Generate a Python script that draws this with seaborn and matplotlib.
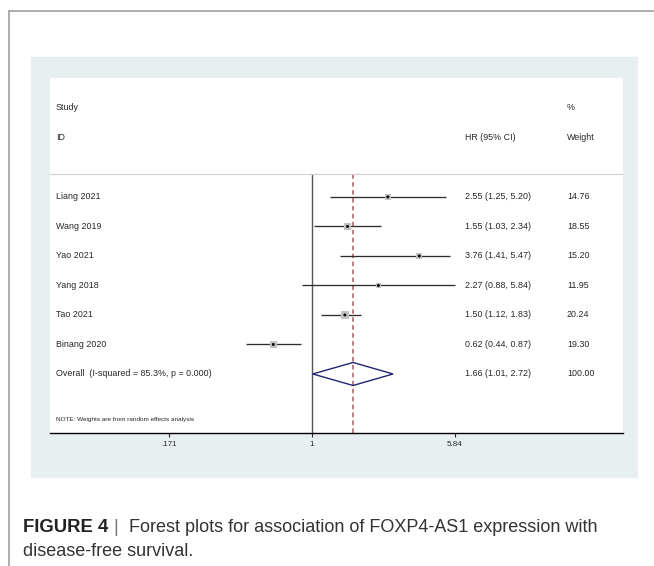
import matplotlib
matplotlib.use("Agg")
import matplotlib.pyplot as plt
from matplotlib.patches import Rectangle, Polygon
from matplotlib.lines import Line2D
from matplotlib.transforms import blended_transform_factory
import numpy as np
import pandas as pd
import seaborn as sns

# Datos del forest plot
studies = ["Liang 2021", "Wang 2019", "Yao 2021", "Yang 2018", "Tao 2021", "Binang 2020"]
hr = [2.55, 1.55, 3.76, 2.27, 1.50, 0.62]
ci_low = [1.25, 1.03, 1.41, 0.88, 1.12, 0.44]
ci_high = [5.20, 2.34, 5.47, 5.84, 1.83, 0.87]
weights = [14.76, 18.55, 15.20, 11.95, 20.24, 19.30]
overall_hr = 1.66
overall_low = 1.01
overall_high = 2.72
overall_weight = 100.00
overall_label = "Overall  (I-squared = 85.3%, p = 0.000)"
x_ticks = [0.171, 1, 5.84]
x_ticklabels = [".171", "1", "5.84"]

df = pd.DataFrame({"study": studies, "hr": hr, "low": ci_low,
                   "high": ci_high, "weight": weights})
df["row"] = np.arange(len(df))
overall_row = len(df)

sns.set_style("white")
plt.rcParams["font.family"] = ["Liberation Sans", "DejaVu Sans"]

W, H = 654, 566
fig = plt.figure(figsize=(W / 100, H / 100), dpi=100)

def fx(px):
    return px / W

def fy(py):
    return 1 - py / H

# marco de la página y panel de fondo
fig.add_artist(Line2D([fx(9), 1], [fy(11), fy(11)], color="#a0a0a0", lw=1.2))
fig.add_artist(Line2D([fx(9), fx(9)], [fy(11), 0], color="#a0a0a0", lw=1.2))
fig.add_artist(Rectangle((fx(31), fy(477)), fx(637) - fx(31), fy(57) - fy(477),
                         transform=fig.transFigure, color="#e7eff1", zorder=0))

ax = fig.add_axes([fx(50), fy(433), (623 - 50) / W, (433 - 78) / H])
ax.set_facecolor("white")
ax.set_xscale("log")
ax.set_xlim(np.exp((50 - 312) / 81.0), np.exp((623 - 312) / 81.0))
ax.set_ylim(8.0, -4.03)

# cajas de peso y estimaciones puntuales
ax.hlines(df["row"], df["low"], df["high"], color="#2e2e2e", lw=0.95, zorder=2)
sns.scatterplot(data=df, x="hr", y="row", size="weight", sizes=(13, 28),
                marker="s", color="#c2c2c2", edgecolor="none", legend=False,
                ax=ax, zorder=3)
sns.scatterplot(data=df, x="hr", y="row", marker="o", s=4.5, color="black",
                edgecolor="none", legend=False, ax=ax, zorder=4)

# diamante del efecto global
h = 0.39
diamond = Polygon([(overall_low, overall_row), (overall_hr, overall_row - h),
                   (overall_high, overall_row), (overall_hr, overall_row + h)],
                  closed=True, fill=False, edgecolor="#1f2470", lw=1.0, zorder=3)
ax.add_patch(diamond)

line_top = (433 - 174) / (433 - 78)
ax.axvline(1, ymin=0, ymax=line_top, color="#555555", lw=1.0, zorder=1)
ax.axvline(overall_hr, ymin=0, ymax=line_top, color="#b35a5a", lw=1.1,
           ls=(0, (3, 2.2)), zorder=1)
ax.axhline(-0.78, color="#cfcfcf", lw=0.8)

# textos de las columnas
tr = blended_transform_factory(ax.transAxes, ax.transData)
fs = 6.4
x_study, x_hr, x_w = 0.0105, 0.7238, 0.902
ax.text(x_study, -3.02, "Study", transform=tr, fontsize=fs, va="center")
ax.text(x_study, -2.0, "ID", transform=tr, fontsize=fs, va="center")
ax.text(x_w, -3.02, "%", transform=tr, fontsize=fs, va="center")
ax.text(x_hr, -2.0, "HR (95% CI)", transform=tr, fontsize=fs, va="center")
ax.text(x_w, -2.0, "Weight", transform=tr, fontsize=fs, va="center")
for _, r in df.iterrows():
    ax.text(x_study, r["row"], r["study"], transform=tr, fontsize=fs, va="center")
    ax.text(x_hr, r["row"], f"{r['hr']:.2f} ({r['low']:.2f}, {r['high']:.2f})",
            transform=tr, fontsize=fs, va="center")
    ax.text(x_w, r["row"], f"{r['weight']:.2f}", transform=tr, fontsize=fs, va="center")
ax.text(x_study, overall_row, overall_label, transform=tr, fontsize=fs, va="center")
ax.text(x_hr, overall_row, f"{overall_hr:.2f} ({overall_low:.2f}, {overall_high:.2f})",
        transform=tr, fontsize=fs, va="center")
ax.text(x_w, overall_row, f"{overall_weight:.2f}", transform=tr, fontsize=fs, va="center")
ax.text(x_study, 7.53, "NOTE: Weights are from random effects analysis",
        transform=tr, fontsize=4.6, va="center")

# eje x
for s in ["top", "left", "right"]:
    ax.spines[s].set_visible(False)
ax.spines["bottom"].set_color("black")
ax.spines["bottom"].set_linewidth(1.0)
ax.set_xticks(x_ticks)
ax.set_xticklabels(x_ticklabels)
ax.xaxis.set_minor_locator(matplotlib.ticker.NullLocator())
ax.tick_params(axis="x", direction="out", length=3, width=0.8, pad=2.5,
               labelsize=5.8, bottom=True)
ax.set_yticks([])
ax.set_xlabel("")
ax.set_ylabel("")

# pie de figura
fig.text(fx(23), fy(527), "FIGURE 4", fontsize=13.3, fontweight="bold",
         color="#222222", va="center")
fig.text(fx(113), fy(527), "|", fontsize=13, color="#777777", va="center")
fig.text(fx(129), fy(527), "Forest plots for association of FOXP4-AS1 expression with",
         fontsize=13, color="#333333", va="center")
fig.text(fx(23), fy(552), "disease-free survival.", fontsize=13, color="#333333",
         va="center")

fig.savefig("out.png", dpi=100)
